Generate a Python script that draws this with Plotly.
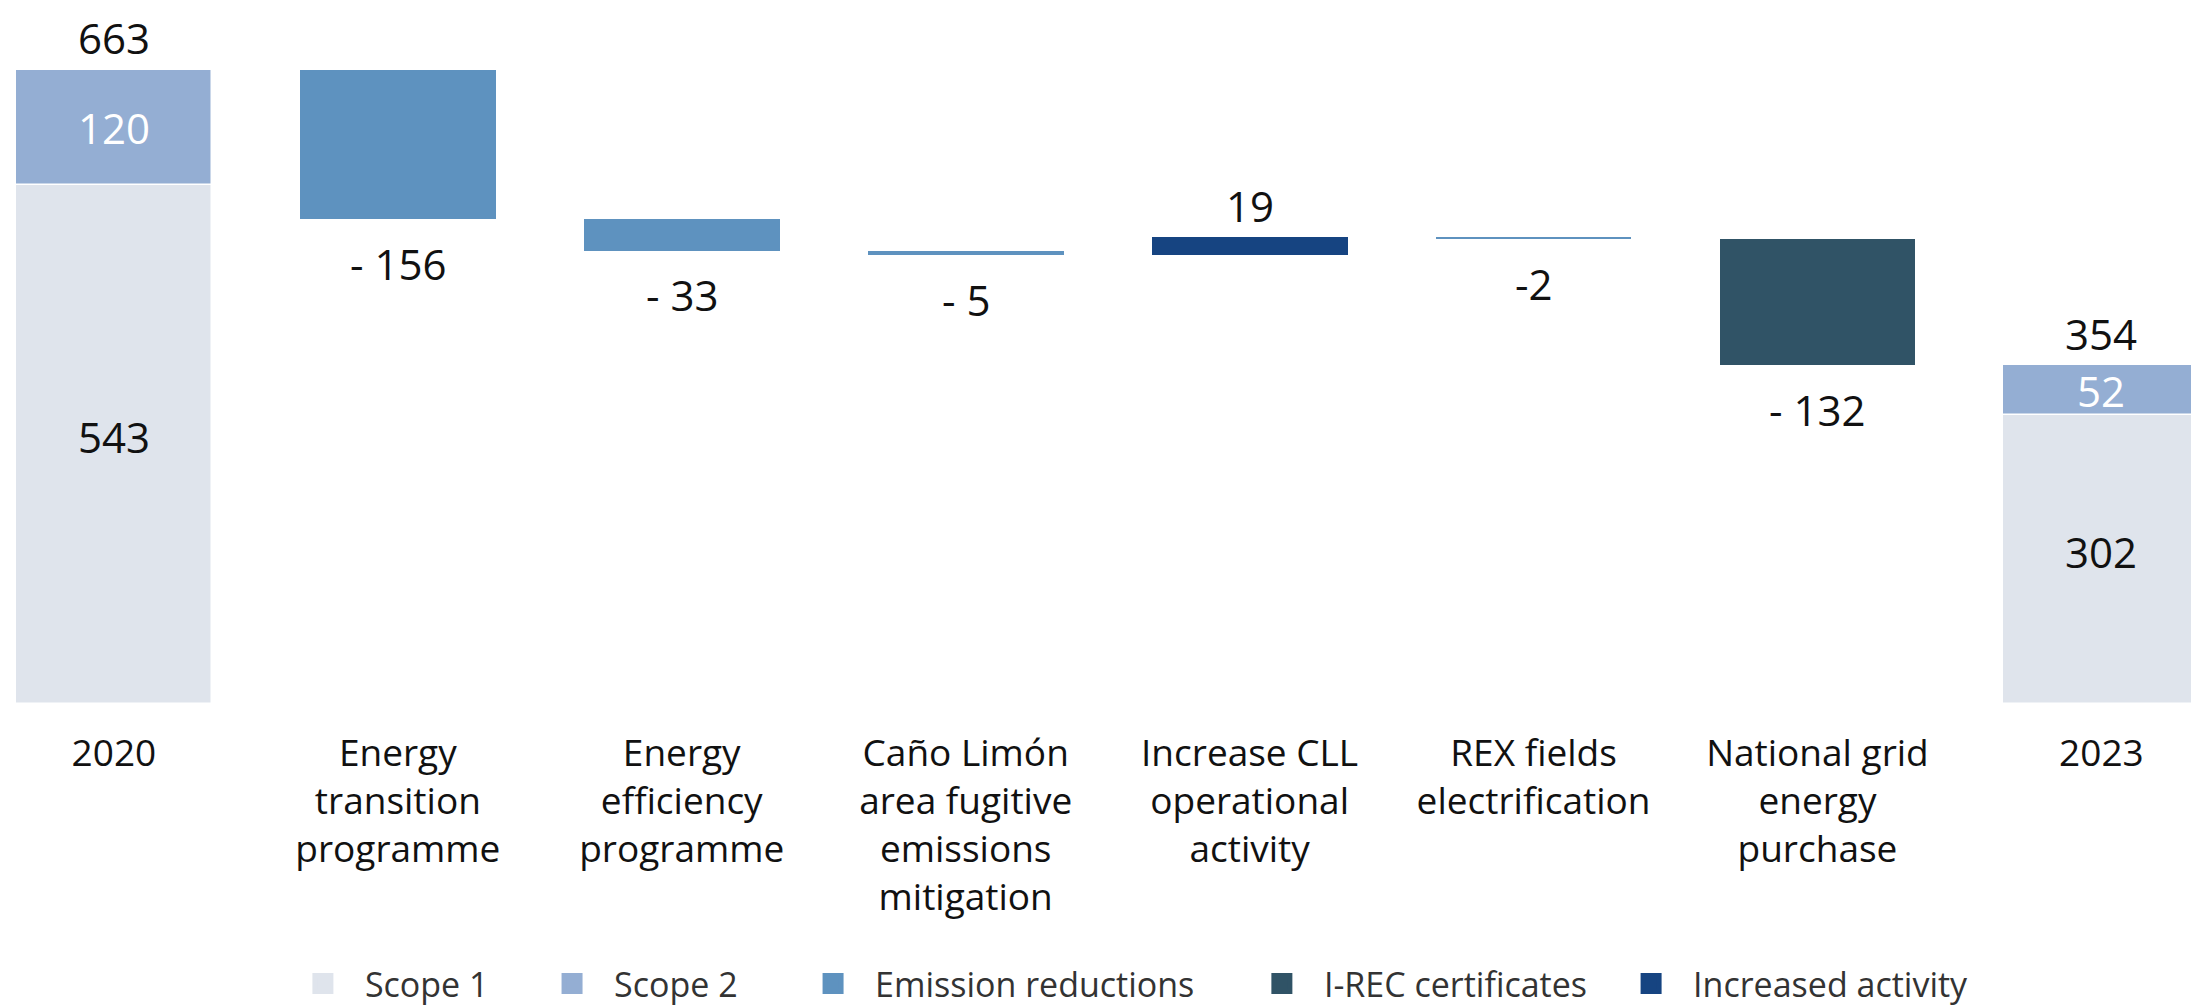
import plotly.graph_objects as go

# ---------------- data ----------------
categories = [
    "2020",
    "Energy transition programme",
    "Energy efficiency programme",
    "Caño Limón area fugitive emissions mitigation",
    "Increase CLL operational activity",
    "REX fields electrification",
    "National grid energy purchase",
    "2023",
]
tick_labels = [
    "2020",
    "Energy<br>transition<br>programme",
    "Energy<br>efficiency<br>programme",
    "Caño Limón<br>area fugitive<br>emissions<br>mitigation",
    "Increase CLL<br>operational<br>activity",
    "REX fields<br>electrification",
    "National grid<br>energy<br>purchase",
    "2023",
]
total_cats = ["2020", "2023"]
scope1 = [543, 302]
scope2 = [120, 52]

change_cats = categories[1:7]
change_values = [-156, -33, -5, 19, -2, -132]
change_labels = ["- 156", "- 33", "- 5", "19", "-2", "- 132"]
change_groups = [
    "Emission reductions",
    "Emission reductions",
    "Emission reductions",
    "Increased activity",
    "Emission reductions",
    "I-REC certificates",
]

legend_order = ["Scope 1", "Scope 2", "Emission reductions", "I-REC certificates", "Increased activity"]
colors = {
    "Scope 1": "#DFE4EC",
    "Scope 2": "#94AED3",
    "Emission reductions": "#5E92BF",
    "I-REC certificates": "#305366",
    "Increased activity": "#164481",
}

FONT = "Open Sans"
BAR_W = 0.69
legend_ids = ["legend", "legend2", "legend3", "legend4", "legend5"]
legend_x = [0.1241, 0.2374, 0.3561, 0.5602, 0.7281]

# ---------------- running totals ----------------
running = scope1[0] + scope2[0]
bases = []
for v in change_values:
    bases.append(running)
    running += v

cat_index = {c: i for i, c in enumerate(categories)}

fig = go.Figure()

fig.add_trace(go.Bar(
    name="Scope 1", x=total_cats, y=scope1, width=BAR_W, showlegend=False,
    marker=dict(color=colors["Scope 1"], line=dict(color="white", width=1.5)),
    hoverinfo="x+y",
))
fig.add_trace(go.Bar(
    name="Scope 2", x=total_cats, y=scope2, base=scope1, width=BAR_W, showlegend=False,
    marker=dict(color=colors["Scope 2"], line=dict(color="white", width=1.5)),
    hoverinfo="x+y",
))

for grp in ["Emission reductions", "I-REC certificates", "Increased activity"]:
    xs = [c for c, g in zip(change_cats, change_groups) if g == grp]
    ys = [v for v, g in zip(change_values, change_groups) if g == grp]
    bs = [b for b, g in zip(bases, change_groups) if g == grp]
    fig.add_trace(go.Bar(
        name=grp, x=xs, y=ys, base=bs, width=BAR_W, showlegend=False,
        marker=dict(color=colors[grp], line=dict(width=0)),
        hoverinfo="x+y",
    ))

# legend entries (one legend per entry so each can be placed like the reference)
for name, lid in zip(legend_order, legend_ids):
    fig.add_trace(go.Scatter(
        name=name, x=[None], y=[None], mode="markers", legend=lid,
        marker=dict(symbol="square", size=16, color=colors[name],
                    line=dict(color=colors[name], width=5)),
        hoverinfo="skip",
    ))

annotations = []
LBL = dict(family=FONT, size=42, color="#111111")
for c, s1, s2 in zip(total_cats, scope1, scope2):
    xi = cat_index[c]
    annotations.append(dict(x=xi, y=s1 + s2, text=str(s1 + s2), showarrow=False,
                            yanchor="middle", yshift=32, font=LBL))
    annotations.append(dict(x=xi, y=s1 + s2 / 2, text=str(s2), showarrow=False,
                            yanchor="middle", font=dict(family=FONT, size=42, color="white")))
    annotations.append(dict(x=xi, y=s1 / 2, text=str(s1), showarrow=False,
                            yanchor="middle", yshift=8, font=LBL))
for c, v, b, t in zip(change_cats, change_values, bases, change_labels):
    xi = cat_index[c]
    end = b + v
    if v < 0:
        annotations.append(dict(x=xi, y=end, text=t, showarrow=False,
                                yanchor="middle", yshift=-44, font=LBL))
    else:
        annotations.append(dict(x=xi, y=end, text=t, showarrow=False,
                                yanchor="middle", yshift=32, font=LBL))

legend_common = dict(
    orientation="h", yanchor="middle", y=-0.402, xanchor="left",
    font=dict(family=FONT, size=34, color="#333333"),
    itemwidth=74, bgcolor="rgba(0,0,0,0)", borderwidth=0,
)
legend_layout = {}
for lid, lx in zip(legend_ids, legend_x):
    legend_layout[lid] = dict(legend_common, x=lx)

fig.update_layout(
    width=2199, height=1007,
    barmode="overlay",
    plot_bgcolor="white", paper_bgcolor="white",
    margin=dict(l=0, r=0, t=0, b=311, autoexpand=False),
    font=dict(family=FONT, color="#111111"),
    annotations=annotations,
    showlegend=True,
    bargap=0,
    **legend_layout,
)
fig.update_xaxes(
    type="category", categoryorder="array", categoryarray=categories,
    tickvals=categories, ticktext=tick_labels,
    range=[-0.373, 7.372],
    showgrid=False, zeroline=False, showline=False, ticks="",
    tickfont=dict(family=FONT, size=37, color="#111111"),
    ticklabelstandoff=24, automargin=False,
)
fig.update_yaxes(
    range=[0, 727.7], visible=False, showgrid=False, zeroline=False,
)

fig.write_html("out.html")
